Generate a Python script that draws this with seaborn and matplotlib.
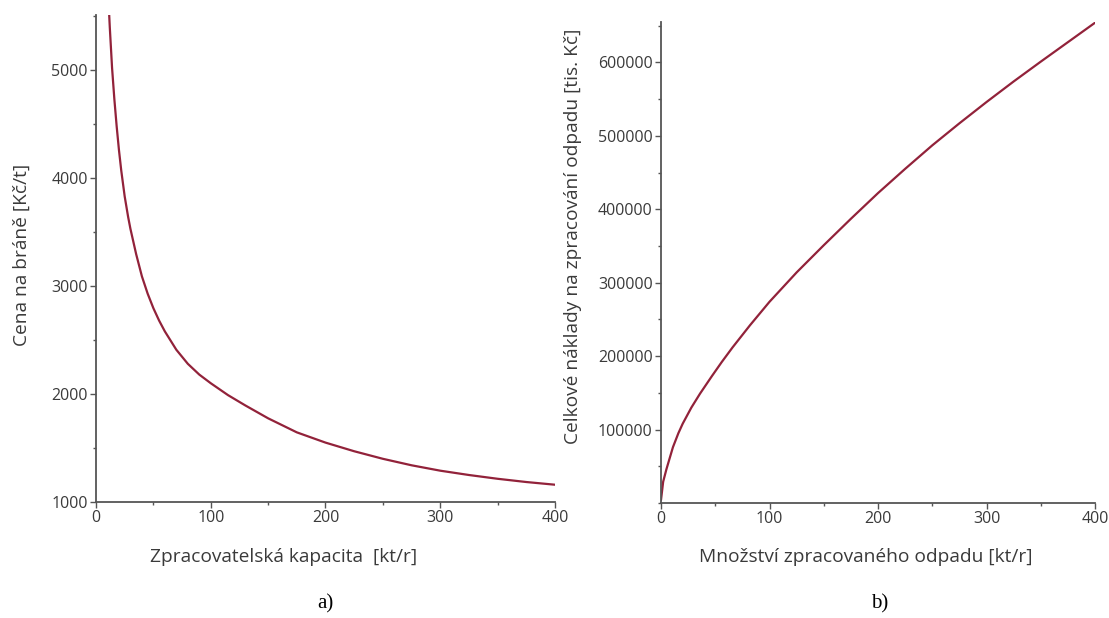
import numpy as np
import pandas as pd
import matplotlib
matplotlib.use("Agg")
import matplotlib.pyplot as plt
import seaborn as sns
from matplotlib.ticker import MultipleLocator

# Data
# a) gate fee vs. processing capacity
cap_kt = [11.5, 12, 14, 16, 18, 20, 22, 25, 28, 30, 35, 40, 45, 50, 55, 60, 70, 80, 90, 100,
          115, 130, 150, 175, 200, 225, 250, 275, 300, 325, 350, 375, 400]
gate_fee = [5510, 5400, 5020, 4730, 4480, 4260, 4070, 3830, 3640, 3530, 3295, 3090, 2930, 2795,
            2680, 2580, 2410, 2280, 2180, 2100, 1990, 1895, 1775, 1645, 1550, 1470, 1400, 1340,
            1290, 1250, 1215, 1185, 1160]

# b) total processing costs vs. amount of processed waste
waste_kt = [0, 2, 5, 7, 11, 16, 20, 28, 36, 47, 56, 66, 82, 100, 125, 150, 175, 200, 225, 250,
            275, 300, 325, 350, 375, 400]
total_cost = [4000, 29000, 46000, 56000, 76000, 95000, 108000, 130000, 149000, 173000, 192000,
              212000, 242000, 274000, 314000, 351000, 387000, 422000, 455000, 487000, 517000,
              546000, 574000, 601000, 627500, 654000]

df_a = pd.DataFrame({"x": cap_kt, "y": gate_fee})
df_b = pd.DataFrame({"x": waste_kt, "y": total_cost})

sns.set_style("white")
plt.rcParams['font.family'] = ['Open Sans', 'DejaVu Sans']

line_col = "#92223A"
text_col = "#3a3a3a"
axis_col = "#555555"

fig = plt.figure(figsize=(11.09, 6.18), dpi=100)
ax1 = fig.add_axes([96 / 1109, 1 - 502 / 618, 459 / 1109, 487 / 618])
ax2 = fig.add_axes([661 / 1109, 1 - 503 / 618, 434 / 1109, 481 / 618])

sns.lineplot(data=df_a, x="x", y="y", ax=ax1, color=line_col, linewidth=1.6)
sns.lineplot(data=df_b, x="x", y="y", ax=ax2, color=line_col, linewidth=1.6)

ax1.set_xlim(0, 400)
ax1.set_ylim(1000, 5510)
ax1.xaxis.set_major_locator(MultipleLocator(100))
ax1.xaxis.set_minor_locator(MultipleLocator(50))
ax1.yaxis.set_major_locator(MultipleLocator(1000))
ax1.yaxis.set_minor_locator(MultipleLocator(500))

ax2.set_xlim(0, 400)
ax2.set_ylim(0, 655000)
ax2.xaxis.set_major_locator(MultipleLocator(100))
ax2.xaxis.set_minor_locator(MultipleLocator(50))
ax2.set_yticks([100000, 200000, 300000, 400000, 500000, 600000])
ax2.yaxis.set_minor_locator(MultipleLocator(50000))

for ax in (ax1, ax2):
    sns.despine(ax=ax)
    ax.set_xlabel("")
    ax.set_ylabel("")
    for s in ("left", "bottom"):
        ax.spines[s].set_color(axis_col)
        ax.spines[s].set_linewidth(1.3)
    ax.tick_params(which="major", direction="out", length=4, width=1, color=axis_col,
                   labelsize=11.5, labelcolor=text_col, pad=2, bottom=True, left=True)
    ax.tick_params(which="minor", direction="out", length=2, width=1, color=axis_col,
                   bottom=True, left=True)

fig.text(284 / 1109, 1 - 557 / 618, "Zpracovatelská kapacita  [kt/r]", ha="center", va="center",
         fontsize=13.8, color=text_col)
fig.text(866 / 1109, 1 - 557 / 618, "Množství zpracovaného odpadu [kt/r]", ha="center", va="center",
         fontsize=13.8, color=text_col)
fig.text(22 / 1109, 1 - 255 / 618, "Cena na bráně [Kč/t]", ha="center", va="center",
         rotation=90, fontsize=13.8, color=text_col)
fig.text(573 / 1109, 1 - 236 / 618, "Celkové náklady na zpracování odpadu [tis. Kč]", ha="center",
         va="center", rotation=90, fontsize=13.8, color=text_col)

fig.text(325 / 1109, 1 - 604 / 618, "a)", ha="center", va="center", fontsize=15,
         family=["Liberation Serif", "DejaVu Serif"], color="black")
fig.text(880 / 1109, 1 - 604 / 618, "b)", ha="center", va="center", fontsize=15,
         family=["Liberation Serif", "DejaVu Serif"], color="black")

fig.savefig("out.png", dpi=100)
